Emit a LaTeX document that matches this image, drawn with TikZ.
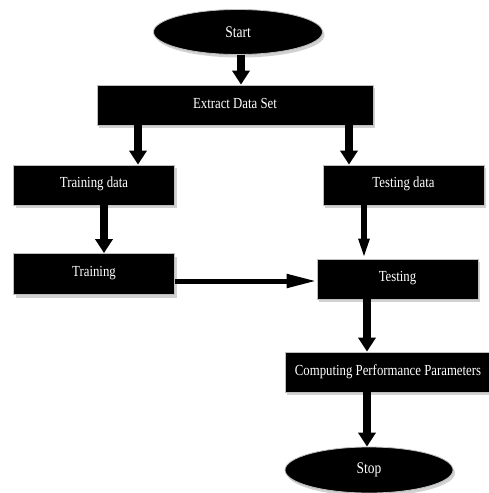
\documentclass[tikz,border=0pt]{standalone}
\usepackage{fontspec}
\setmainfont{Liberation Serif}
\usetikzlibrary{shapes.geometric,arrows.meta,shadows}
\newcommand{\tallt}[1]{\scalebox{1}[1.2]{#1}}
\begin{document}
\begin{tikzpicture}[x=1pt,y=-1pt,
  shad/.style={drop shadow={shadow xshift=2pt,shadow yshift=-3pt,fill=black!18,opacity=1}},
  flowbox/.style={rectangle,fill=black,draw=black!25,line width=0.8pt,text=white,
    minimum height=40pt,inner sep=0pt,font=\fontsize{12.8}{14}\selectfont,shad},
  term/.style={ellipse,fill=black,draw=black!25,line width=0.8pt,text=white,
    inner sep=0pt,font=\fontsize{13.5}{15}\selectfont,shad},
  bigarrow/.style={line width=8pt,-{Triangle[length=14pt,width=17pt]}},
  thinarrow/.style={line width=5pt,-{Triangle[length=30pt,width=13pt]}}]
\useasboundingbox (0,0) rectangle (489,493);
\node[term,minimum width=169pt,minimum height=45pt] (start) at (238,32) {\tallt{Start}};
\node[flowbox,minimum width=276pt] (extract) at (235,105) {\raisebox{3pt}{\tallt{Extract Data Set}}};
\node[flowbox,minimum width=161pt] (trdata) at (94,185) {\raisebox{5pt}{\tallt{Training data}}};
\node[flowbox,minimum width=161pt] (tedata) at (403.5,185) {\raisebox{5pt}{\tallt{Testing data}}};
\node[flowbox,minimum width=161pt,minimum height=41pt] (training) at (94,274) {\raisebox{5pt}{\tallt{Training}}};
\node[flowbox,minimum width=161pt] (testing) at (397.5,279) {\raisebox{5pt}{\tallt{Testing}}};
\node[flowbox,minimum width=206pt] (compute) at (388,372) {\raisebox{4pt}{\tallt{Computing Performance Parameters}}};
\node[term,minimum width=168pt,minimum height=46pt] (stop) at (369,470) {\tallt{Stop}};
\draw[bigarrow] (start.south -| 241,0) -- (extract.north -| 241,0);
\draw[bigarrow] (extract.south -| 138,0) -- (trdata.north -| 138,0);
\draw[bigarrow] (extract.south -| 349,0) -- (tedata.north -| 349,0);
\draw[bigarrow] (trdata.south -| 104,0) -- (training.north -| 104,0);
\draw[line width=6pt,-{Triangle[length=20pt,width=10pt]}] (tedata.south -| 364,0) -- (testing.north -| 364,0);
\draw[thinarrow] (training.east |- 0,281) -- (testing.west |- 0,281);
\draw[bigarrow] (testing.south -| 367,0) -- (compute.north -| 367,0);
\draw[bigarrow] (compute.south -| 367,0) -- (stop.north -| 367,0);
\end{tikzpicture}
\end{document}
